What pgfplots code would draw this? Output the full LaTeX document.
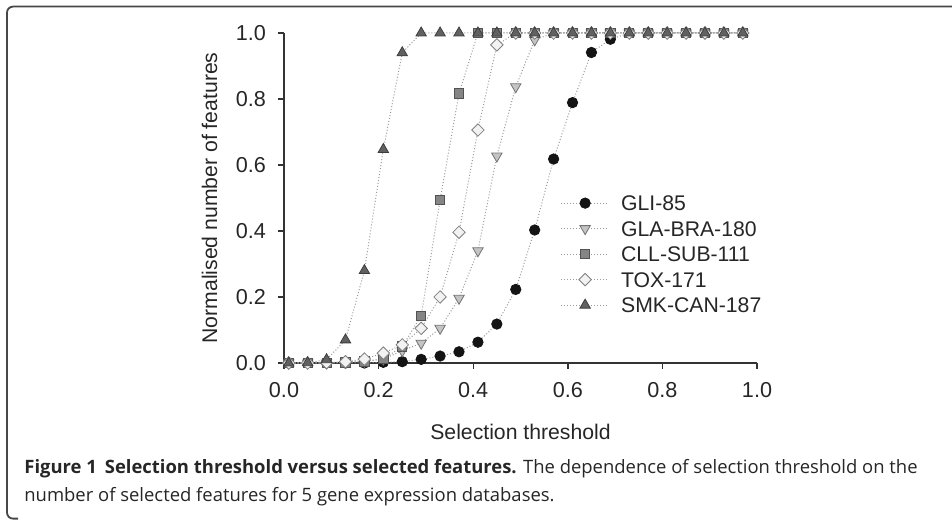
\documentclass[border=0pt]{standalone}
\usepackage{pgfplots}
\pgfplotsset{compat=1.18}
\usepackage{fontspec}
\setmainfont{Liberation Sans}
\newfontfamily\capfont{Open Sans}

\definecolor{linegray}{HTML}{9A9A9A}
\definecolor{axisgray}{HTML}{333333}

% 1 px of the reference = 0.5pt
\pgfplotsset{
  dotline/.style={color=linegray, line width=0.5pt, dash pattern=on 0.5pt off 1pt},
}

\begin{document}
\begin{tikzpicture}
\useasboundingbox (0,0) rectangle (476pt,259.5pt);

% figure frame
\draw[line width=0.9pt, color=black!72, rounded corners=3pt]
  (478pt,256.2pt) -- (3.5pt,256.2pt) -- (3.5pt,0.2pt) -- (9pt,0.2pt);

\begin{axis}[
  at={(142pt,78pt)}, anchor=south west,
  scale only axis, width=236.5pt, height=165pt,
  xmin=0, xmax=1, ymin=0, ymax=1,
  clip=false,
  axis lines*=left,
  axis line style={line width=1.1pt, color=axisgray},
  xtick={0,0.2,...,1.0}, ytick={0,0.2,...,1.0},
  tick align=outside, major tick length=3pt,
  tick style={line width=0.7pt, color=axisgray},
  /pgf/number format/.cd, fixed, fixed zerofill, precision=1, assume math mode=true,
  /pgfplots/.cd,
  ticklabel style={font=\fontsize{10.8}{12}\selectfont, color=black!85},
  xticklabel style={yshift=-3pt},
  yticklabel style={xshift=-2.5pt},
  xlabel={Selection threshold},
  ylabel={Normalised number of features},
  label style={font=\fontsize{10.6}{12}\selectfont, color=black!85},
  xlabel style={at={(axis description cs:0.5,-0.233)}, anchor=base},
  ylabel style={at={(axis description cs:-0.1416,0.5)}, anchor=base, rotate=0},
  legend style={at={(axis cs:0.584,0.509)}, anchor=north west, draw=none, fill=none,
    inner sep=0pt, row sep=5.05pt, column sep=0pt,
    font=\fontsize{10.6}{12}\selectfont,
    cells={anchor=base west},
    nodes={inner sep=0pt, text height=7.7pt, text depth=0pt, text=black!85}},
  legend image code/.code={
    \path[draw=none, fill=none] (0pt,0pt) rectangle (30pt,7.7pt);
    \draw[mark repeat=2, mark phase=2, #1]
      plot coordinates {(0pt,3.85pt) (12pt,3.85pt) (24pt,3.85pt)};
  },
]

% GLI-85
\addplot[dotline, mark=*, mark size=2.6pt,
  mark options={solid, fill=black!92, draw=black!92, line width=0.4pt}]
coordinates {
(0.01,0) (0.05,0) (0.09,0) (0.13,0) (0.17,0) (0.21,0.002) (0.25,0.004)
(0.29,0.011) (0.33,0.021) (0.37,0.034) (0.41,0.063) (0.45,0.118) (0.49,0.223)
(0.53,0.403) (0.57,0.618) (0.61,0.789) (0.65,0.941) (0.69,0.981) (0.73,1)
(0.77,1) (0.81,1) (0.85,1) (0.89,1) (0.93,1) (0.97,1)
};
\addlegendentry{GLI-85}

% GLA-BRA-180
\addplot[dotline, mark=triangle*, mark size=3.0pt,
  mark options={solid, rotate=180, fill=black!23, draw=black!55, line width=0.4pt}]
coordinates {
(0.01,0) (0.05,0) (0.09,0) (0.13,0.002) (0.17,0.005) (0.21,0.012) (0.25,0.037)
(0.29,0.06) (0.33,0.105) (0.37,0.196) (0.41,0.34) (0.45,0.627) (0.49,0.837)
(0.53,0.979) (0.57,1) (0.61,1) (0.65,1) (0.69,1) (0.73,1)
(0.77,1) (0.81,1) (0.85,1) (0.89,1) (0.93,1) (0.97,1)
};
\addlegendentry{GLA-BRA-180}

% CLL-SUB-111
\addplot[dotline, mark=square*, mark size=2.3pt,
  mark options={solid, fill=black!48, draw=black!68, line width=0.4pt}]
coordinates {
(0.01,0) (0.05,0) (0.09,0) (0.13,0.002) (0.17,0.005) (0.21,0.012) (0.25,0.05)
(0.29,0.143) (0.33,0.494) (0.37,0.817) (0.41,1) (0.45,1) (0.49,1)
(0.53,1) (0.57,1) (0.61,1) (0.65,1) (0.69,1) (0.73,1)
(0.77,1) (0.81,1) (0.85,1) (0.89,1) (0.93,1) (0.97,1)
};
\addlegendentry{CLL-SUB-111}

% TOX-171
\addplot[dotline, mark=square*, mark size=2.2pt,
  mark options={solid, rotate=45, fill=black!5, draw=black!50, line width=0.4pt}]
coordinates {
(0.01,0) (0.05,0) (0.09,0.001) (0.13,0.004) (0.17,0.012) (0.21,0.03) (0.25,0.055)
(0.29,0.105) (0.33,0.2) (0.37,0.396) (0.41,0.706) (0.45,0.964) (0.49,1)
(0.53,1) (0.57,1) (0.61,1) (0.65,1) (0.69,1) (0.73,1)
(0.77,1) (0.81,1) (0.85,1) (0.89,1) (0.93,1) (0.97,1)
};
\addlegendentry{TOX-171}

% SMK-CAN-187
\addplot[dotline, mark=triangle*, mark size=3.0pt,
  mark options={solid, fill=black!62, draw=black!76, line width=0.4pt}]
coordinates {
(0.01,0) (0.05,0.001) (0.09,0.01) (0.13,0.07) (0.17,0.28) (0.21,0.647) (0.25,0.94)
(0.29,1) (0.33,1) (0.37,1) (0.41,1) (0.45,1) (0.49,1)
(0.53,1) (0.57,1) (0.61,1) (0.65,1) (0.69,1) (0.73,1)
(0.77,1) (0.81,1) (0.85,1) (0.89,1) (0.93,1) (0.97,1)
};
\addlegendentry{SMK-CAN-187}

\end{axis}

% caption
\node[anchor=base west, inner sep=0pt, font=\capfont\fontsize{9.22}{11}\selectfont, color=black!85]
  at (12pt,23pt) {\textbf{Figure 1\hspace{4pt}Selection threshold versus selected features.} The dependence of selection threshold on the};
\node[anchor=base west, inner sep=0pt, font=\capfont\fontsize{9.22}{11}\selectfont, color=black!85]
  at (12pt,8.7pt) {number of selected features for 5 gene expression databases.};
\end{tikzpicture}
\end{document}
